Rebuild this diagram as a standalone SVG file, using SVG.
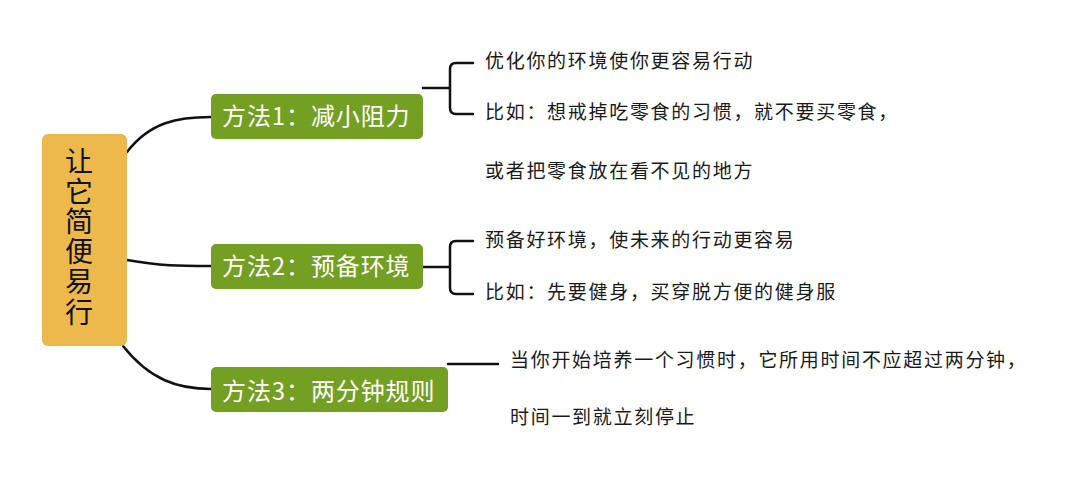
<svg xmlns="http://www.w3.org/2000/svg" width="1080" height="480" viewBox="0 0 1080 480">
<style>
.root{fill:#EDB84C}
.br{fill:#739F22}
.rt{font-family:"Noto Sans CJK SC","Noto Sans",sans-serif;font-size:28px;fill:#111;writing-mode:vertical-rl;letter-spacing:2.2px}
.bt{font-family:"Noto Sans CJK SC","Noto Sans",sans-serif;font-size:24px;fill:#fff;letter-spacing:0.9px}
.lt{font-family:"Noto Sans CJK SC","Noto Sans",sans-serif;font-size:19px;fill:#1a1a1a;letter-spacing:1.7px}
.ln{fill:none;stroke:#111;stroke-width:2.5;stroke-linecap:round;stroke-linejoin:round}
</style>
<rect width="1080" height="480" fill="#fff"/>
<g id="connectors">
<path class="ln" d="M127,152 C150,122 178,117 211,117"/>
<path class="ln" d="M127,260 C160,266 180,266 211,266"/>
<path class="ln" d="M123,346 C150,380 178,389 211,389"/>
<path class="ln" d="M423,88 H450 M473,63 H456 Q450,63 450,69 V108 Q450,114 456,114 H473"/>
<path class="ln" d="M423,267 H450 M473,241 H456 Q450,241 450,247 V288 Q450,294 456,294 H473"/>
<path class="ln" d="M448,364 H498"/>
</g>
<g id="root">
<rect class="root" x="42" y="134" width="85" height="212" rx="6"/>
<text class="rt" x="79" y="147">让它简便易行</text>
</g>
<g id="branch1">
<rect class="br" x="211" y="94" width="212" height="45" rx="5"/>
<text class="bt" x="222" y="125">方法1：减小阻力</text>
</g>
<g id="branch2">
<rect class="br" x="211" y="244" width="212" height="45" rx="5"/>
<text class="bt" x="222" y="275">方法2：预备环境</text>
</g>
<g id="branch3">
<rect class="br" x="211" y="367" width="237" height="45" rx="5"/>
<text class="bt" x="222" y="400">方法3：两分钟规则</text>
</g>
<g id="leaf1a"><text class="lt" x="485" y="68">优化你的环境使你更容易行动</text></g>
<g id="leaf1b"><text class="lt" x="485" y="119">比如：想戒掉吃零食的习惯，就不要买零食，</text><text class="lt" x="485" y="178">或者把零食放在看不见的地方</text></g>
<g id="leaf2a"><text class="lt" x="485" y="247">预备好环境，使未来的行动更容易</text></g>
<g id="leaf2b"><text class="lt" x="485" y="299">比如：先要健身，买穿脱方便的健身服</text></g>
<g id="leaf3"><text class="lt" x="510" y="367">当你开始培养一个习惯时，它所用时间不应超过两分钟，</text><text class="lt" x="510" y="424">时间一到就立刻停止</text></g>
</svg>
